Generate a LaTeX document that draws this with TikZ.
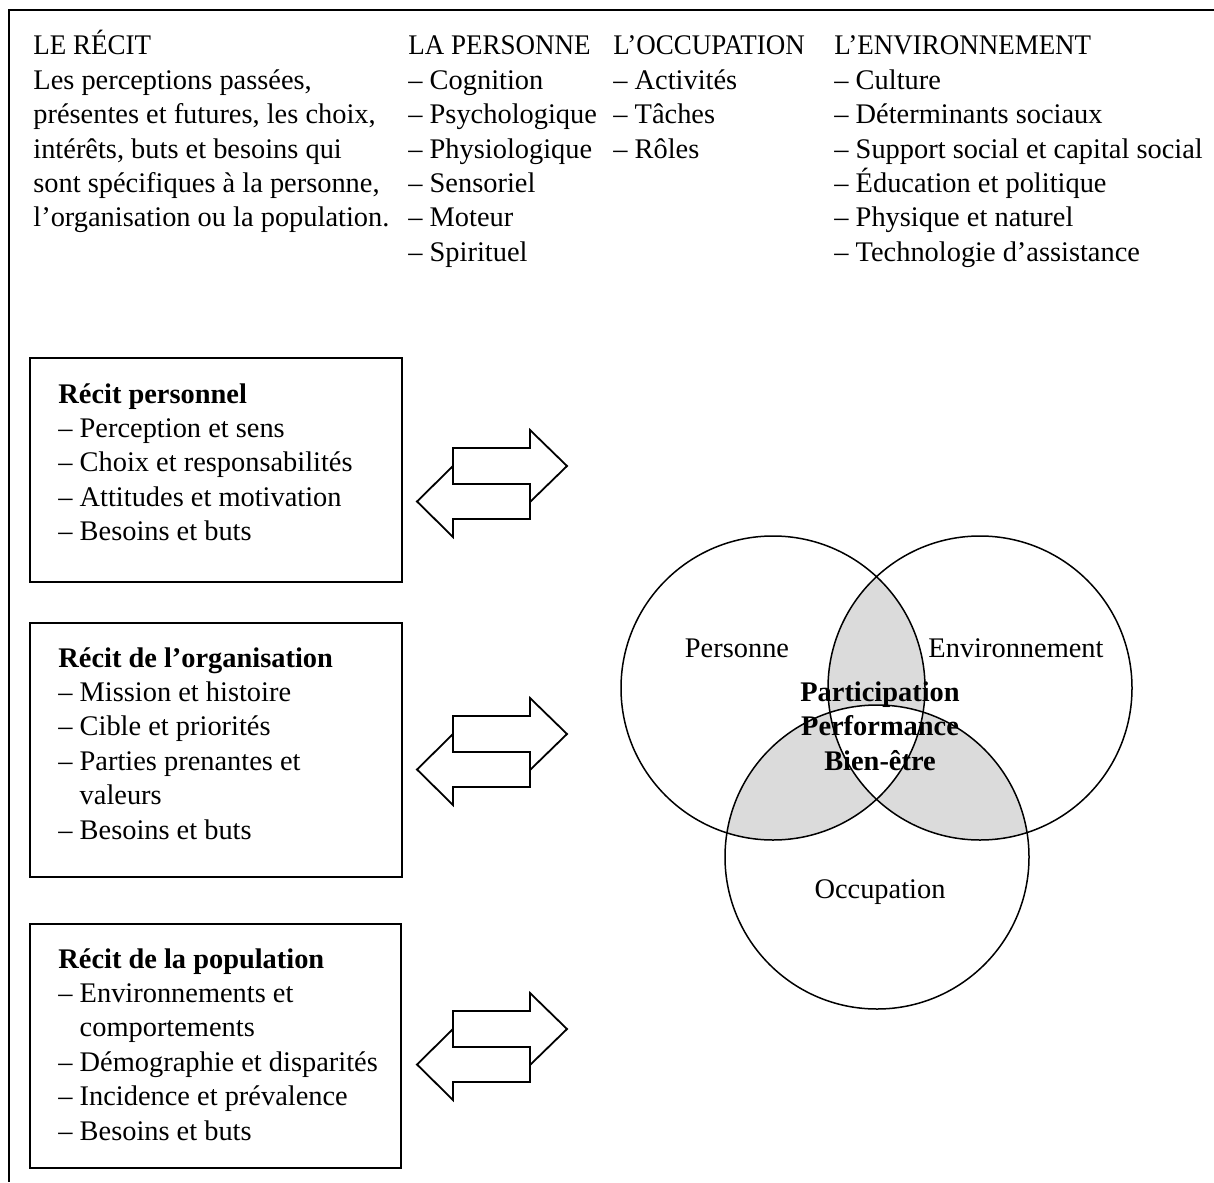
\documentclass[tikz,border=0pt]{standalone}
\usepackage{fontspec}
\setmainfont{Liberation Serif}
\newfontfamily\capsfont[FakeStretch=0.95]{Liberation Serif}
\begin{document}
\begin{tikzpicture}[x=0.5pt,y=-0.5pt,
  txt/.style={anchor=base west, inner sep=0pt, align=left,
    font=\fontsize{14.2}{17.2}\selectfont},
  ctxt/.style={anchor=base, inner sep=0pt, align=center,
    font=\fontsize{14.2}{17.2}\selectfont},
  frame/.style={line width=1pt},
  boxline/.style={line width=0.9pt},
  ring/.style={line width=0.75pt},
  arrowline/.style={line width=0.9pt, line join=miter},
  shade/.style={fill=black!14},
  dblarrow/.pic={
    \draw[arrowline] (0,-36) -- (77,-36) -- (77,-54) -- (114,-18) -- (77,18) -- (77,0) -- (0,0) -- cycle;
    \draw[arrowline] (77,0) -- (77,35) -- (0,35) -- (0,53) -- (-36,17.5) -- (0,-18) -- (0,0) -- cycle;
  }]
\useasboundingbox (0,0) rectangle (1214,1182);

% outer frame
\coordinate (fTL) at (9,10);
\coordinate (fTR) at (1214,10);
\coordinate (fBL) at (9,1182);
\draw[frame] (fTR) -- (fTL) -- (fBL);

% header columns (a node's base is the baseline of its last line)
\node[txt] (recit) at (33,227) {{\capsfont LE RÉCIT}\\Les perceptions passées,\\présentes et futures, les choix,\\intérêts, buts et besoins qui\\sont spécifiques à la personne,\\l’organisation ou la population.};
\node[txt] (personne) at (408,261.4) {{\capsfont LA PERSONNE}\\– Cognition\\– Psychologique\\– Physiologique\\– Sensoriel\\– Moteur\\– Spirituel};
\node[txt] (occupation) at (613,158.2) {{\capsfont L’OCCUPATION}\\– Activités\\– Tâches\\– Rôles};
\node[txt] (environnement) at (834,261.4) {{\capsfont L’ENVIRONNEMENT}\\– Culture\\– Déterminants sociaux\\– Support social et capital social\\– Éducation et politique\\– Physique et naturel\\– Technologie d’assistance};

% left boxes
\draw[boxline] (30,358) rectangle (402,582);
\node[txt] (rperso) at (58,540.6) {\textbf{Récit personnel}\\– Perception et sens\\– Choix et responsabilités\\– Attitudes et motivation\\– Besoins et buts};

\draw[boxline] (30,623) rectangle (402,877);
\node[txt] (rorga) at (58,839) {\textbf{Récit de l’organisation}\\– Mission et histoire\\– Cible et priorités\\– Parties prenantes et\\\phantom{– }valeurs\\– Besoins et buts};

\draw[boxline] (30,924) rectangle (401,1168);
\node[txt] (rpop) at (58,1140) {\textbf{Récit de la population}\\– Environnements et\\\phantom{– }comportements\\– Démographie et disparités\\– Incidence et prévalence\\– Besoins et buts};

% double arrows
\pic at (453,484) {dblarrow};
\pic at (453,752) {dblarrow};
\pic at (453,1047) {dblarrow};

% Venn diagram
\coordinate (cP) at (773,688);
\coordinate (cE) at (980,688);
\coordinate (cO) at (877,857);
\def\vr{76pt}
\begin{scope}
  \clip (cP) circle [radius=\vr];
  \fill[shade] (cE) circle [radius=\vr];
  \fill[shade] (cO) circle [radius=\vr];
\end{scope}
\begin{scope}
  \clip (cE) circle [radius=\vr];
  \fill[shade] (cO) circle [radius=\vr];
\end{scope}
\begin{scope}
  \clip (cP) circle [radius=\vr];
  \clip (cE) circle [radius=\vr];
  \fill[white] (cO) circle [radius=\vr];
\end{scope}
\draw[ring] (cP) circle [radius=\vr];
\draw[ring] (cE) circle [radius=\vr];
\draw[ring] (cO) circle [radius=\vr];

\node[ctxt] (vP) at (737,657) {Personne};
\node[ctxt] (vE) at (1016,657) {Environnement};
\node[ctxt, font=\fontsize{14.2}{17.2}\selectfont\bfseries] (vC) at (880,770) {Participation\\Performance\\Bien-être};
\node[ctxt] (vO) at (880,898) {Occupation};
\end{tikzpicture}
\end{document}
